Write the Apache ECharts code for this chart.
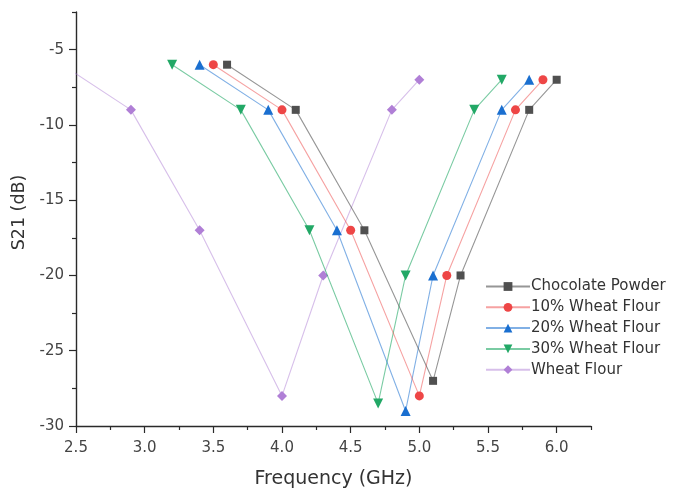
<!DOCTYPE html>
<html>
<head>
<meta charset="utf-8">
<script src="https://cdn.jsdelivr.net/npm/echarts@6/dist/echarts.min.js"></script>
<style>
  html, body { margin: 0; padding: 0; background: #fff; }
  #chart { width: 674px; height: 495px; }
</style>
</head>
<body>
<div id="chart"></div>
<script>
// Transmission S21 versus frequency for each sample mixture
const freqChoc   = [3.6, 4.1, 4.6, 5.1, 5.3, 5.8, 6.0];
const s21Choc    = [-6, -9, -17, -27, -20, -9, -7];
const freq10     = [3.5, 4.0, 4.5, 5.0, 5.2, 5.7, 5.9];
const s21_10     = [-6, -9, -17, -28, -20, -9, -7];
const freq20     = [3.4, 3.9, 4.4, 4.9, 5.1, 5.6, 5.8];
const s21_20     = [-6, -9, -17, -29, -20, -9, -7];
const freq30     = [3.2, 3.7, 4.2, 4.7, 4.9, 5.4, 5.6];
const s21_30     = [-6, -9, -17, -28.5, -20, -9, -7];
const freqWheat  = [2.4, 2.9, 3.4, 4.0, 4.3, 4.8, 5.0];
const s21Wheat   = [-6, -9, -17, -28, -20, -9, -7];

const seriesNames = ['Chocolate Powder', '10% Wheat Flour', '20% Wheat Flour', '30% Wheat Flour', 'Wheat Flour'];

const xMajor = [2.5, 3.0, 3.5, 4.0, 4.5, 5.0, 5.5, 6.0];
const xMinor = [2.75, 3.25, 3.75, 4.25, 4.75, 5.25, 5.75, 6.25];
const yMajor = [-30, -25, -20, -15, -10, -5];
const yMinor = [-27.5, -22.5, -17.5, -12.5, -7.5, -2.5];

const zip = (xs, ys) => xs.map((x, i) => [x, ys[i]]);

const styles = [
  { color: '#505050', line: 'rgba(80,80,80,0.6)',    symbol: 'rect',     size: 8,  rotate: 0 },
  { color: '#EE4646', line: 'rgba(238,70,70,0.5)',   symbol: 'circle',   size: 9,  rotate: 0 },
  { color: '#1A6FD0', line: 'rgba(26,111,208,0.55)', symbol: 'triangle', size: 10, rotate: 0 },
  { color: '#22A866', line: 'rgba(34,168,102,0.6)',  symbol: 'triangle', size: 10, rotate: 180 },
  { color: '#B07FD6', line: 'rgba(176,127,214,0.5)', symbol: 'diamond',  size: 10, rotate: 0 }
];
const seriesData = [
  zip(freqChoc, s21Choc),
  zip(freq10, s21_10),
  zip(freq20, s21_20),
  zip(freq30, s21_30),
  zip(freqWheat, s21Wheat)
];

const font = 'DejaVu Sans, sans-serif';
const axisColor = '#2a2a2a';

const chart = echarts.init(document.getElementById('chart'));
chart.setOption({
  animation: false,
  grid: { left: 76, right: 83, top: 12, bottom: 69 },
  legend: {
    orient: 'vertical',
    left: 485,
    top: 279,
    padding: 0,
    itemWidth: 44,
    itemHeight: 11,
    itemGap: 5.8,
    data: seriesNames,
    textStyle: { fontFamily: font, fontSize: 15, color: '#333', lineHeight: 15, padding: [0, 0, 0, -4] }
  },
  xAxis: [
    {
      type: 'value', min: 2.5, max: 6.25, interval: 0.5,
      name: 'Frequency (GHz)', nameLocation: 'middle', nameGap: 44,
      nameTextStyle: { fontFamily: font, fontSize: 19, color: '#333' },
      axisLine: { lineStyle: { color: axisColor, width: 1.4 } },
      axisTick: { customValues: xMajor, length: 7, lineStyle: { color: axisColor, width: 1.2 } },
      axisLabel: { customValues: xMajor, fontFamily: font, fontSize: 15, color: '#444', margin: 15,
                   formatter: v => v.toFixed(1) },
      splitLine: { show: false }
    },
    {
      type: 'value', min: 2.5, max: 6.25, position: 'bottom',
      axisLine: { show: false },
      axisTick: { customValues: xMinor, length: 4, lineStyle: { color: axisColor, width: 1.2 } },
      axisLabel: { show: false },
      splitLine: { show: false }
    }
  ],
  yAxis: [
    {
      type: 'value', min: -30, max: -2.5, interval: 5,
      name: 'S21 (dB)', nameLocation: 'middle', nameGap: 45,
      nameTextStyle: { fontFamily: font, fontSize: 17.5, color: '#333', padding: [0, 0, 0, 13] },
      axisLine: { show: true, lineStyle: { color: axisColor, width: 1.4 } },
      axisTick: { show: true, customValues: yMajor, length: 7, lineStyle: { color: axisColor, width: 1.2 } },
      axisLabel: { customValues: yMajor, fontFamily: font, fontSize: 15, color: '#444', margin: 12 },
      splitLine: { show: false }
    },
    {
      type: 'value', min: -30, max: -2.5, position: 'left',
      axisLine: { show: false },
      axisTick: { show: true, customValues: yMinor, length: 4, lineStyle: { color: axisColor, width: 1.2 } },
      axisLabel: { show: false },
      splitLine: { show: false }
    }
  ],
  series: seriesNames.map((name, i) => ({
    name: name,
    type: 'line',
    xAxisIndex: 0,
    yAxisIndex: 0,
    data: seriesData[i],
    clip: true,
    symbol: styles[i].symbol,
    symbolSize: styles[i].size,
    symbolRotate: styles[i].rotate,
    showAllSymbol: true,
    itemStyle: { color: styles[i].color },
    lineStyle: { color: styles[i].line, width: 1.1 },
    z: 10 - i
  }))
});
</script>
</body>
</html>
